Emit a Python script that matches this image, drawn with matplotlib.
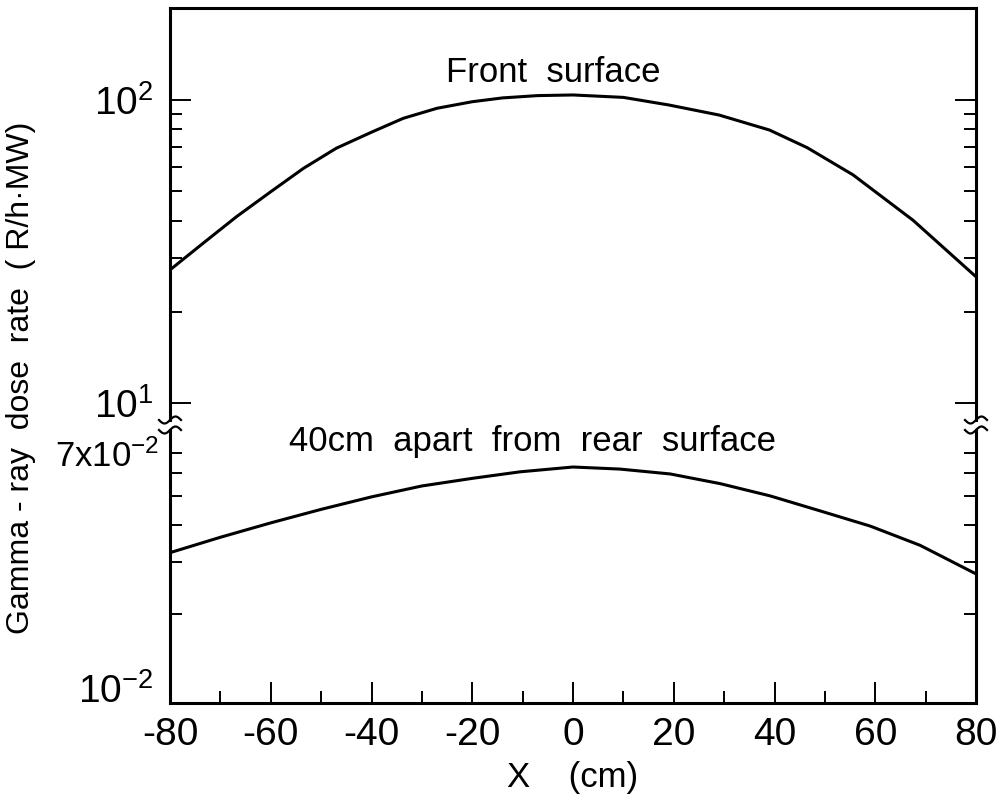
import numpy as np
import matplotlib
matplotlib.use("Agg")
import matplotlib.pyplot as plt
from matplotlib.ticker import FixedLocator, NullFormatter, FixedFormatter
from matplotlib.lines import Line2D

plt.rcParams['font.family'] = ['Liberation Sans', 'DejaVu Sans']
plt.rcParams['mathtext.fontset'] = 'custom'
plt.rcParams['mathtext.rm'] = 'Liberation Sans'
plt.rcParams['mathtext.it'] = 'Liberation Sans'
plt.rcParams['axes.unicode_minus'] = False

# front surface (x in cm, dose rate in R/h.MW)
x_front = [-80, -73.4, -66.8, -60, -53.5, -47, -40, -33.7, -27, -20, -14, -7, 0,
           10, 19, 29, 39, 46.5, 55.6, 67.5, 80]
front = [27.5, 33.7, 41.2, 49.8, 59.5, 69.3, 78.3, 87.0, 93.9, 98.7, 101.6, 103.4, 103.9,
         102.0, 96.3, 89.2, 79.6, 69.6, 56.6, 40.1, 26.1]

# 40 cm apart from rear surface
x_rear = [-80, -70, -60, -50, -40, -30, -20, -10.5, 0, 9.3, 19.3, 29.2, 39.1, 49, 59, 68.9, 80]
rear = [0.0322, 0.0363, 0.0406, 0.0451, 0.0497, 0.0541, 0.0574, 0.0604, 0.0627,
        0.0617, 0.0594, 0.0551, 0.0501, 0.0446, 0.0396, 0.0341, 0.0273]

W, H = 1005, 800
fig = plt.figure(figsize=(W / 100, H / 100), dpi=100)

# pixel layout from the reference
left_px, right_px, top_px, bot_px = 170, 976, 8, 703
brk_top, brk_bot = 420, 430

def fx(px):
    return np.asarray(px) / W

def fy(py):
    return 1 - np.asarray(py) / H

ax_t = fig.add_axes([fx(left_px), fy(brk_top), fx(right_px) - fx(left_px), fy(top_px) - fy(brk_top)])
ax_b = fig.add_axes([fx(left_px), fy(bot_px), fx(right_px) - fx(left_px), fy(brk_bot) - fy(bot_px)])

lw_spine = 2.2
for ax in (ax_t, ax_b):
    ax.set_yscale('log')
    ax.set_xlim(-80, 80)
    for s in ax.spines.values():
        s.set_linewidth(lw_spine)
    ax.tick_params(which='both', direction='in', left=True, right=True, top=False,
                   width=1.4, labelsize=28, pad=12)
    ax.tick_params(which='major', length=15)
    ax.tick_params(which='minor', length=8.5)

ax_t.spines['bottom'].set_visible(False)
ax_b.spines['top'].set_visible(False)

ax_t.plot(x_front, front, color='black', lw=2.2)
ax_b.plot(x_rear, rear, color='black', lw=2.2)

# top panel: 10^1 .. ~2x10^2
ax_t.set_ylim(10 ** (2 - (brk_top - 100) / 303), 10 ** (2 + (100 - top_px) / 303))
ax_t.yaxis.set_major_locator(FixedLocator([10, 100]))
ax_t.yaxis.set_major_formatter(FixedFormatter([r'$10^{1}$', r'$10^{2}$']))
ax_t.yaxis.set_minor_locator(FixedLocator([20, 30, 40, 50, 60, 70, 80, 90]))
ax_t.yaxis.set_minor_formatter(NullFormatter())
ax_t.tick_params(axis='x', which='both', bottom=False, labelbottom=False)

# bottom panel: 10^-2 .. ~8x10^-2
ax_b.set_ylim(0.01, 10 ** (-2 + (bot_px - brk_bot) / 296))
ax_b.yaxis.set_major_locator(FixedLocator([0.01]))
ax_b.yaxis.set_major_formatter(FixedFormatter([r'$10^{-2}$']))
ax_b.yaxis.set_minor_locator(FixedLocator([0.02, 0.03, 0.04, 0.05, 0.06, 0.07]))
ax_b.yaxis.set_minor_formatter(FixedFormatter(['', '', '', '', '', r'7x$10^{-2}$']))
ax_b.tick_params(axis='y', which='minor', labelsize=25, pad=8)
ax_b.set_xticks(np.arange(-80, 81, 20))
ax_b.set_xticks(np.arange(-70, 80, 20), minor=True)
ax_b.tick_params(axis='x', which='both', pad=10)
for lab in ax_b.yaxis.get_majorticklabels():
    lab.set_verticalalignment('baseline')

# axis break marks on both side spines
def squiggle(xc, yc):
    t = np.linspace(-1, 1, 30)
    xs = xc + 11 * t
    ys = yc - 3.5 * np.sin(np.pi * t)
    fig.add_artist(Line2D(fx(xs), fy(ys), color='black', lw=1.6, transform=fig.transFigure))

for xc in (left_px, right_px):
    squiggle(xc, brk_top)
    squiggle(xc, brk_bot)

ax_t.text(-4, 10 ** (2 + 27 / 303), 'Front  surface', ha='center', va='center', fontsize=25)
ax_b.text(-8, 10 ** (-2 + (702 - 440) / 296), '40cm  apart  from  rear  surface',
          ha='center', va='center', fontsize=25)

fig.text(fx(21), fy(378), 'Gamma - ray  dose  rate  ( R/h·MW)', rotation=90,
         ha='center', va='center', fontsize=23)
fig.text(fx(573), fy(777), 'X    (cm)', ha='center', va='center', fontsize=25)

fig.savefig('out.png', dpi=100)
